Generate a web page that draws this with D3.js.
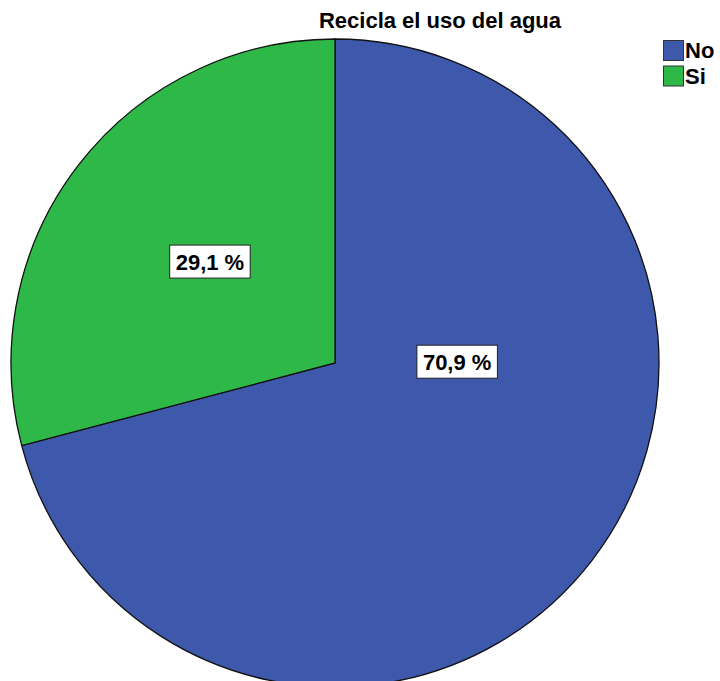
<!DOCTYPE html>
<html>
<head>
<meta charset="utf-8">
<script src="https://cdn.jsdelivr.net/npm/d3@7"></script>
<style>
  html, body { margin: 0; padding: 0; background: #fff; }
  svg { display: block; }
  text { font-family: "Liberation Sans", Arial, sans-serif; font-weight: bold; fill: #000; }
</style>
</head>
<body>
<div id="chart"></div>
<script>
// Data
const title = "Recicla el uso del agua";
const categories = ["No", "Si"];
const percents = [70.9, 29.1];
const colors = ["#3E58AC", "#2EB848"];

const W = 720, H = 681;
const cx = 335, cy = 363, R = 324;

const svg = d3.select("#chart").append("svg")
  .attr("width", W).attr("height", H);

// Slices run clockwise from 12 o'clock; "Si" ends at the top, "No" starts there
const pie = d3.pie().sort(null).value(d => d.value)
  .startAngle(0).endAngle(2 * Math.PI);
const data = categories.map((c, i) => ({ name: c, value: percents[i], color: colors[i] }));
const arcs = pie(data);
const arc = d3.arc().innerRadius(0).outerRadius(R);

const g = svg.append("g").attr("transform", `translate(${cx},${cy})`);
g.selectAll("path.slice").data(arcs).enter().append("path")
  .attr("class", "slice")
  .attr("d", arc)
  .attr("fill", d => d.data.color)
  .attr("stroke", "#111")
  .attr("stroke-width", 1.3)
  .attr("stroke-linejoin", "miter");

// Percentage labels in white boxes; placement expressed as fractions of the radius
const labelAnchor = { "No": [0.377, -0.004], "Si": [-0.386, -0.313] };
const fmt = v => d3.format(".1f")(v).replace(".", ",") + " %";
const lab = g.selectAll("g.lab").data(arcs).enter().append("g")
  .attr("class", "lab")
  .attr("transform", d => {
    const a = labelAnchor[d.data.name];
    return `translate(${a[0] * R},${a[1] * R})`;
  });
lab.append("rect").attr("class", "lbox");
lab.append("text")
  .attr("text-anchor", "middle")
  .attr("dy", "0.36em")
  .style("font-size", "22px")
  .text(d => fmt(d.data.value));
lab.each(function() {
  const t = d3.select(this).select("text").node().getBBox();
  d3.select(this).select("rect")
    .attr("x", t.x - 6).attr("y", -16.5)
    .attr("width", t.width + 12).attr("height", 33)
    .attr("fill", "#fff").attr("stroke", "#222").attr("stroke-width", 1);
});

// Title
svg.append("text")
  .attr("x", 440).attr("y", 28)
  .attr("text-anchor", "middle")
  .style("font-size", "22px")
  .text(title);

// Legend
const leg = svg.append("g").attr("transform", "translate(663,40)");
const item = leg.selectAll("g").data(data).enter().append("g")
  .attr("transform", (d, i) => `translate(0,${i * 25.5})`);
item.append("rect")
  .attr("x", 0.5).attr("y", 0.5).attr("width", 20).attr("height", 20)
  .attr("fill", d => d.color).attr("stroke", "#333").attr("stroke-width", 1);
item.append("text")
  .attr("x", 22).attr("y", 18)
  .style("font-size", "22px")
  .text(d => d.name);
</script>
</body>
</html>
